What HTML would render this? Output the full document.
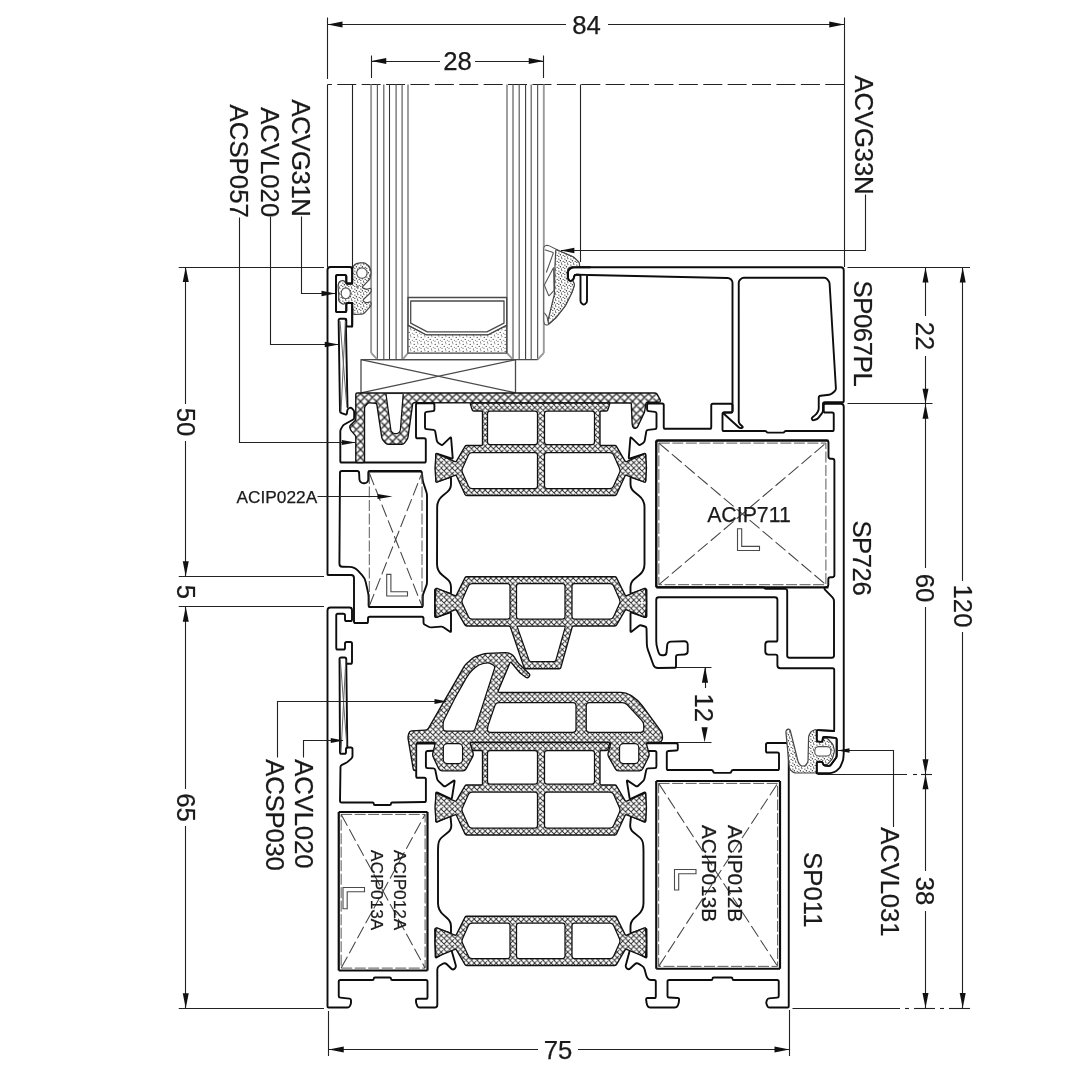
<!DOCTYPE html>
<html><head><meta charset="utf-8"><title>Section</title>
<style>
html,body{margin:0;padding:0;background:#fff;}
body{width:1080px;height:1080px;overflow:hidden;font-family:"Liberation Sans",sans-serif;}
svg{display:block;filter:grayscale(1)}
.t{stroke:#222;stroke-width:1.1;fill:none}
.tg{stroke:#666;stroke-width:1;fill:none}
.al{stroke:#0d0d0d;stroke-width:1.9;fill:none;stroke-linejoin:round;stroke-linecap:round}
.alw{stroke:#0d0d0d;stroke-width:1.9;fill:#fff;stroke-linejoin:round}
.bx{stroke:#0d0d0d;stroke-width:2.2;fill:none;stroke-linejoin:miter}
.gl{stroke:#5c5c5c;stroke-width:1.2;fill:none}
.go{stroke:#9a9a9a;stroke-width:1.9;fill:none}
.gd{stroke:#333;stroke-width:1.05;fill:none}
.sp{stroke:#4a4a4a;stroke-width:1.3;fill:none;stroke-linejoin:round}
.ds{stroke:#505050;stroke-width:0.95;fill:none;stroke-dasharray:11 2.5}
.dx{stroke:#444;stroke-width:1.05;fill:none;stroke-dasharray:13 4}
.h1{fill:url(#xh1);stroke:#111;stroke-width:1.35;stroke-linejoin:round}
.h2{fill:url(#xh2);stroke:#111;stroke-width:1.4;stroke-linejoin:round}
.cv{fill:#fff;stroke:#111;stroke-width:1.25;stroke-linejoin:round}
.st{fill:url(#dots2);stroke:#444;stroke-width:1.2;stroke-linejoin:round}
.sl{fill:url(#dots);stroke:#444;stroke-width:1.2;stroke-linejoin:round}
.stw{fill:#fff;stroke:#555;stroke-width:1.1;stroke-linejoin:round}
.ar{fill:#111;stroke:none}
.tx{fill:#1a1a1a;stroke:#1a1a1a;stroke-width:0.25;font-family:"Liberation Sans",sans-serif}
.lm{stroke:#4a4a4a;stroke-width:1.1;fill:#fff}
</style></head><body>
<svg width="1080" height="1080" viewBox="0 0 1080 1080">
<defs>
<pattern id="xh1" width="5.5" height="5.5" patternUnits="userSpaceOnUse" patternTransform="translate(1.2 0.6)">
<rect width="5.5" height="5.5" fill="#fff"/>
<path d="M-1,-1 L6.5,6.5 M-1,6.5 L6.5,-1 M-1,4.5 L1,6.5 M4.5,-1 L6.5,1 M-1,1 L1,-1 M4.5,6.5 L6.5,4.5" stroke="#2a2a2a" stroke-width="0.95" fill="none"/>
</pattern>
<pattern id="xh2" width="8" height="8" patternUnits="userSpaceOnUse" patternTransform="translate(0.5 1.5)">
<rect width="8" height="8" fill="#fff"/>
<path d="M-1,-1 L9,9 M-1,9 L9,-1 M-1,7 L1,9 M7,-1 L9,1 M-1,1 L1,-1 M7,9 L9,7" stroke="#222" stroke-width="1.25" fill="none"/>
</pattern>
<pattern id="dots" width="7" height="7" patternUnits="userSpaceOnUse">
<rect width="7" height="7" fill="#fff"/>
<circle cx="1.2" cy="1.4" r="0.6" fill="#3a3a3a"/><circle cx="4.9" cy="0.7" r="0.55" fill="#555"/><circle cx="3.2" cy="3.4" r="0.6" fill="#444"/><circle cx="6.3" cy="4.3" r="0.5" fill="#555"/><circle cx="1" cy="5.3" r="0.55" fill="#444"/><circle cx="4.4" cy="6.1" r="0.55" fill="#3a3a3a"/>
</pattern>
<pattern id="dots2" width="6" height="6" patternUnits="userSpaceOnUse">
<rect width="6" height="6" fill="#fff"/>
<circle cx="0.9" cy="1.1" r="0.65" fill="#2e2e2e"/><circle cx="3.9" cy="0.6" r="0.6" fill="#444"/><circle cx="2.4" cy="2.8" r="0.7" fill="#333"/><circle cx="5.2" cy="3.4" r="0.6" fill="#3a3a3a"/><circle cx="0.8" cy="4.4" r="0.6" fill="#444"/><circle cx="3.5" cy="5.1" r="0.65" fill="#2e2e2e"/>
</pattern>
</defs>
<rect width="1080" height="1080" fill="#fff"/>
<line class="t" x1="327.5" y1="17.5" x2="327.5" y2="79"/>
<line class="t" x1="844.5" y1="17.5" x2="844.5" y2="267"/>
<line class="t" x1="327.5" y1="24.5" x2="566" y2="24.5"/>
<line class="t" x1="608" y1="24.5" x2="844.25" y2="24.5"/>
<polygon class="ar" points="327.50,24.50 342.50,21.50 342.50,27.50"/>
<polygon class="ar" points="844.25,24.50 829.25,21.50 829.25,27.50"/>
<text class="tx" x="586.5" y="33.7" font-size="25.7" text-anchor="middle">84</text>
<line class="t" x1="371.5" y1="55.5" x2="371.5" y2="78"/>
<line class="t" x1="543.5" y1="55.5" x2="543.5" y2="78"/>
<line class="t" x1="371.25" y1="61.5" x2="440" y2="61.5"/>
<line class="t" x1="475" y1="61.5" x2="543.75" y2="61.5"/>
<polygon class="ar" points="371.25,61.00 386.25,58.00 386.25,64.00"/>
<polygon class="ar" points="543.75,61.00 528.75,58.00 528.75,64.00"/>
<text class="tx" x="457.5" y="70.3" font-size="25.7" text-anchor="middle">28</text>
<line class="t" x1="327.5" y1="84.5" x2="844.25" y2="84.5" stroke-dasharray="19 5.4" stroke-dashoffset="14.65"/>
<line class="t" x1="327.5" y1="84.5" x2="327.5" y2="267"/>
<line class="t" x1="352.5" y1="84.5" x2="352.5" y2="267"/>
<line class="t" x1="580.5" y1="84.5" x2="580.5" y2="262"/>
<line class="t" x1="178.75" y1="267.5" x2="324" y2="267.5"/>
<line class="t" x1="178.75" y1="576.5" x2="324" y2="576.5"/>
<line class="t" x1="178.75" y1="606.5" x2="324" y2="606.5"/>
<line class="t" x1="178.75" y1="1008.5" x2="324" y2="1008.5"/>
<line class="t" x1="185.5" y1="267" x2="185.5" y2="404"/>
<line class="t" x1="185.5" y1="441" x2="185.5" y2="576.25"/>
<polygon class="ar" points="185.75,267.00 182.75,282.00 188.75,282.00"/>
<polygon class="ar" points="185.75,576.25 182.75,561.25 188.75,561.25"/>
<line class="t" x1="185.5" y1="606.75" x2="185.5" y2="789"/>
<line class="t" x1="185.5" y1="826" x2="185.5" y2="1008.25"/>
<polygon class="ar" points="185.75,606.75 182.75,621.75 188.75,621.75"/>
<polygon class="ar" points="185.75,1008.25 182.75,993.25 188.75,993.25"/>
<text class="tx" font-size="25.7" text-anchor="middle" transform="translate(176.80 422) rotate(90)">50</text>
<text class="tx" font-size="25.7" text-anchor="middle" transform="translate(176.80 592) rotate(90)">5</text>
<text class="tx" font-size="25.7" text-anchor="middle" transform="translate(176.80 807.5) rotate(90)">65</text>
<line class="t" x1="847.5" y1="267.5" x2="970" y2="267.5"/>
<line class="t" x1="847.5" y1="403.5" x2="932.5" y2="403.5"/>
<line class="t" x1="817.5" y1="774.5" x2="907" y2="774.5"/>
<line class="t" x1="913" y1="774.5" x2="917" y2="774.5"/>
<line class="t" x1="921" y1="774.5" x2="932" y2="774.5"/>
<line class="t" x1="792.5" y1="1008.5" x2="900" y2="1008.5"/>
<line class="t" x1="905" y1="1008.5" x2="909" y2="1008.5"/>
<line class="t" x1="914" y1="1008.5" x2="935" y2="1008.5"/>
<line class="t" x1="940" y1="1008.5" x2="944" y2="1008.5"/>
<line class="t" x1="949" y1="1008.5" x2="970" y2="1008.5"/>
<line class="t" x1="925.5" y1="267.5" x2="925.5" y2="316"/>
<line class="t" x1="925.5" y1="356" x2="925.5" y2="403.75"/>
<polygon class="ar" points="925.50,267.50 922.50,282.50 928.50,282.50"/>
<polygon class="ar" points="925.50,403.75 922.50,388.75 928.50,388.75"/>
<line class="t" x1="925.5" y1="403.75" x2="925.5" y2="568"/>
<line class="t" x1="925.5" y1="607" x2="925.5" y2="774.25"/>
<polygon class="ar" points="925.50,403.75 922.50,418.75 928.50,418.75"/>
<polygon class="ar" points="925.50,774.25 922.50,759.25 928.50,759.25"/>
<line class="t" x1="925.5" y1="774.25" x2="925.5" y2="871"/>
<line class="t" x1="925.5" y1="911" x2="925.5" y2="1008"/>
<polygon class="ar" points="925.50,774.25 922.50,789.25 928.50,789.25"/>
<polygon class="ar" points="925.50,1008.00 922.50,993.00 928.50,993.00"/>
<line class="t" x1="962.5" y1="267.5" x2="962.5" y2="581"/>
<line class="t" x1="962.5" y1="632" x2="962.5" y2="1008"/>
<polygon class="ar" points="962.70,267.50 959.70,282.50 965.70,282.50"/>
<polygon class="ar" points="962.70,1008.00 959.70,993.00 965.70,993.00"/>
<text class="tx" font-size="25.7" text-anchor="middle" transform="translate(915.80 336) rotate(90)">22</text>
<text class="tx" font-size="25.7" text-anchor="middle" transform="translate(915.80 588) rotate(90)">60</text>
<text class="tx" font-size="25.7" text-anchor="middle" transform="translate(916.30 891) rotate(90)">38</text>
<text class="tx" font-size="25.7" text-anchor="middle" transform="translate(953.50 606) rotate(90)">120</text>
<line class="t" x1="328.5" y1="1011" x2="328.5" y2="1056"/>
<line class="t" x1="789.5" y1="1010" x2="789.5" y2="1056"/>
<line class="t" x1="328.75" y1="1049.5" x2="538" y2="1049.5"/>
<line class="t" x1="578" y1="1049.5" x2="789.5" y2="1049.5"/>
<polygon class="ar" points="328.75,1049.50 343.75,1046.50 343.75,1052.50"/>
<polygon class="ar" points="789.50,1049.50 774.50,1046.50 774.50,1052.50"/>
<text class="tx" x="558" y="1058.8" font-size="25.7" text-anchor="middle">75</text>
<line class="t" x1="676" y1="667.5" x2="711.5" y2="667.5"/>
<line class="t" x1="661" y1="742.5" x2="711.5" y2="742.5"/>
<line class="t" x1="705.5" y1="667.5" x2="705.5" y2="688"/>
<polygon class="ar" points="705.00,666.80 701.90,682.80 708.10,682.80"/>
<polygon class="ar" points="704.60,742.30 701.50,727.30 707.70,727.30"/>
<text class="tx" font-size="25.7" text-anchor="middle" transform="translate(694.80 707.8) rotate(90)">12</text>
<line class="go" x1="371.1" y1="84.5" x2="371.1" y2="353"/>
<line class="gl" x1="377.4" y1="84.5" x2="377.4" y2="359.7"/>
<line class="gl" x1="383.8" y1="84.5" x2="383.8" y2="359.7"/>
<line class="gd" x1="389.5" y1="84.5" x2="389.5" y2="359.7"/>
<line class="gl" x1="396.1" y1="84.5" x2="396.1" y2="359.7"/>
<line class="gl" x1="402.1" y1="84.5" x2="402.1" y2="359.7"/>
<line class="go" x1="408" y1="84.5" x2="408" y2="353"/>
<line class="go" x1="507" y1="84.5" x2="507" y2="353"/>
<line class="gl" x1="513" y1="84.5" x2="513" y2="359.7"/>
<line class="gl" x1="519.2" y1="84.5" x2="519.2" y2="359.7"/>
<line class="gd" x1="525.6" y1="84.5" x2="525.6" y2="359.7"/>
<line class="gl" x1="531.2" y1="84.5" x2="531.2" y2="359.7"/>
<line class="gl" x1="537.6" y1="84.5" x2="537.6" y2="359.7"/>
<line class="go" x1="543.8" y1="84.5" x2="543.8" y2="353"/>
<line class="go" x1="371.25" y1="353" x2="377.5" y2="359.7"/>
<line class="go" x1="408" y1="353" x2="402.5" y2="359.7"/>
<line class="go" x1="507" y1="353" x2="513" y2="359.7"/>
<line class="go" x1="543.75" y1="353" x2="537.5" y2="359.7"/>
<line class="sp" x1="377.5" y1="359.7" x2="537.5" y2="359.7"/>
<path class="sp" d="M408,297.5 H506.7 V325.4 L487.9,335 H426.3 L408,325.4 Z" stroke-width="1.5" stroke="#666"/>
<path class="sp" d="M410.7,301 H504 V323.2 L486.9,331.9 H427.3 L410.7,323.2 Z" />
<path class="sl" d="M408,325.4 L426.3,335 H487.9 L506.7,325.4 V353.2 H408 Z" stroke="#444"/>
<path class="sp" d="M361,392.8 V359.7 H515.5 V392.8" stroke="#333"/>
<line class="sp" x1="361" y1="359.7" x2="515.5" y2="392.8"/>
<line class="sp" x1="361" y1="392.8" x2="515.5" y2="359.7"/>
<path class="al" d="M339.85,267.00 L349.70,267.00 Q352.20,267.00 352.20,269.50 L352.20,281.90 Q352.20,283.50 350.60,283.50 L347.90,283.50 Q346.30,283.50 346.30,281.90 L346.30,276.60 Q346.30,275.00 344.70,275.00 L337.60,275.00 Q336.00,275.00 336.00,276.60 L336.00,310.40 Q336.00,312.00 337.60,312.00 L344.70,312.00 Q346.30,312.00 346.30,310.40 L346.30,304.60 Q346.30,303.00 347.90,303.00 L350.60,303.00 Q352.20,303.00 352.20,304.60 L352.20,324.90 Q352.20,326.50 350.60,326.50 L347.90,326.50 Q346.30,326.50 346.30,324.90 L346.30,320.30 Q346.30,318.70 344.70,318.70 L340.20,318.70 Q338.60,318.70 338.62,320.30 L339.98,410.90 Q340.00,412.50 341.50,413.06 L345.20,414.44 Q346.70,415.00 346.91,413.41 L347.29,410.59 Q347.50,409.00 348.92,408.27 L349.38,408.03 Q350.80,407.30 351.91,408.45 L353.09,409.65 Q354.20,410.80 354.20,412.40 L354.20,417.40 Q354.20,419.00 352.80,419.77 L344.70,424.23 Q343.30,425.00 342.48,426.37 L341.12,428.63 Q340.30,430.00 340.30,431.60 L340.30,460.90 Q340.30,462.50 341.90,462.50 L424.20,462.50 Q425.80,462.50 425.80,460.90 L425.80,439.90 Q425.80,438.30 424.20,438.30 L417.60,438.30 Q416.00,438.30 416.00,436.70 L416.00,404.90 Q416.00,403.30 417.60,403.30 L432.80,403.30 Q434.40,403.30 434.40,404.90 L434.40,409.40 Q434.40,411.00 432.81,411.17 L426.59,411.83 Q425.00,412.00 425.00,413.60 L425.00,427.40 Q425.00,429.00 426.59,429.16 L433.41,429.84 Q435.00,430.00 435.26,431.58 L436.74,440.42 Q437.00,442.00 438.31,442.92 L440.69,444.58 Q442.00,445.50 443.14,444.38 L449.86,437.82 Q451.00,436.70 451.13,438.29 L452.67,457.41 Q452.80,459.00 451.28,458.49 L437.52,453.81 Q436.00,453.30 436.00,454.90 L436.00,480.40 Q436.00,482.00 437.51,481.47 L449.49,477.23 Q451.00,476.70 451.00,478.30 L451.00,484.00 Q451.00,489.00 447.09,492.12 L442.67,495.64 Q437.20,500.00 437.18,507.00 L437.02,564.00 Q437.00,571.00 442.50,575.32 L447.07,578.91 Q451.00,582.00 451.00,587.00 L451.00,592.40 Q451.00,594.00 449.48,593.50 L436.52,589.25 Q435.00,588.75 435.00,590.35 L435.00,615.90 Q435.00,617.50 436.51,616.98 L449.49,612.52 Q451.00,612.00 451.00,613.60 L451.00,630.90 Q451.00,632.50 449.69,631.58 L443.81,627.42 Q442.50,626.50 440.91,626.63 L431.59,627.37 Q430.00,627.50 428.59,626.74 L424.91,624.76 Q423.50,624.00 423.50,622.40 L423.50,618.40 Q423.50,616.80 421.90,616.80 L369.60,616.80 Q368.00,616.80 368.00,618.40 L368.00,621.40 Q368.00,623.00 366.40,623.00 L355.60,623.00 Q354.00,623.00 354.00,621.40 L354.00,578.00 Q354.00,575.00 351.00,575.00 L328.00,575.00 Q327.50,575.00 327.50,574.50 L327.50,270.00 Q327.50,267.00 330.50,267.00Z" />
<line class="al" x1="345.8" y1="319" x2="347.5" y2="407"/>
<line class="tg" x1="340" y1="321" x2="346.6" y2="404"/>
<line class="tg" x1="345.4" y1="321" x2="341" y2="412"/>
<path class="al" d="M349.50,471.00 L357.20,471.00 Q359.00,471.00 359.09,472.80 L359.42,479.30 Q359.50,481.00 360.75,482.15 L360.75,482.15 Q362.00,483.30 363.70,483.30 L364.37,483.30 Q366.00,483.30 367.15,482.15 L367.15,482.15 Q368.30,481.00 368.30,479.37 L368.30,472.80 Q368.30,471.00 370.10,471.00 L419.90,471.00 Q421.70,471.00 421.90,472.79 L422.60,479.21 Q422.80,481.00 423.35,482.71 L426.45,492.29 Q427.00,494.00 427.00,495.80 L427.00,582.20 Q427.00,584.00 426.36,585.68 L423.44,593.32 Q422.80,595.00 422.80,596.80 L422.80,605.20 Q422.80,607.00 421.00,607.00 L370.40,607.00 Q368.60,607.00 368.60,605.20 L368.60,597.50 Q368.60,595.00 368.05,592.56 L365.67,581.90 Q364.80,578.00 362.07,575.08 L357.92,570.65 Q354.50,567.00 349.50,566.87 L342.40,566.68 Q339.40,566.60 339.42,563.60 L339.99,472.80 Q340.00,471.00 341.80,471.00Z" />
<path class="al" d="M655.42,403.50 L662.15,403.50 Q663.75,403.50 663.75,405.10 L663.75,427.15 Q663.75,428.75 665.35,428.75 L709.65,428.75 Q711.25,428.75 711.25,427.15 L711.25,405.35 Q711.25,403.75 712.85,403.75 L730.90,403.75 Q732.50,403.75 732.50,405.35 L732.50,410.90 Q732.50,412.50 730.90,412.50 L724.10,412.50 Q722.50,412.50 722.50,414.10 L722.50,429.40 Q722.50,431.00 724.10,431.00 L765.06,431.00 Q766.00,431.00 766.50,431.80 L766.50,431.80 Q767.00,432.60 767.94,432.60 L783.06,432.60 Q784.00,432.60 784.50,431.80 L784.50,431.80 Q785.00,431.00 785.94,431.00 L832.15,431.00 Q833.75,431.00 833.75,429.40 L833.75,414.10 Q833.75,412.50 832.15,412.50 L825.35,412.50 Q823.75,412.50 823.75,410.90 L823.75,405.35 Q823.75,403.75 825.35,403.75 L840.75,403.75 Q843.75,403.75 843.75,406.75 L843.75,751.40 Q843.75,753.00 843.62,754.60 L843.33,758.40 Q843.20,760.00 842.57,761.47 L840.63,766.03 Q840.00,767.50 838.83,768.59 L836.67,770.61 Q835.50,771.70 833.96,772.15 L831.54,772.85 Q830.00,773.30 828.40,773.30 L818.30,773.30 Q816.70,773.30 816.70,771.70 L816.70,763.30 Q816.70,761.70 818.30,761.70 L820.90,761.70 Q822.50,761.70 822.93,763.24 L823.07,763.76 Q823.50,765.30 825.09,765.47 L828.41,765.83 Q830.00,766.00 830.96,764.72 L835.74,758.28 Q836.70,757.00 836.70,755.40 L836.70,739.60 Q836.70,738.00 835.11,737.85 L824.59,736.85 Q823.00,736.70 822.85,738.29 L822.65,740.41 Q822.50,742.00 820.91,741.86 L818.29,741.64 Q816.70,741.50 816.70,739.90 L816.70,731.60 Q816.70,730.00 818.30,730.09 L832.60,730.91 Q834.20,731.00 834.20,729.40 L834.20,669.90 Q834.20,668.30 832.60,668.30 L780.40,668.30 Q777.40,668.30 777.40,665.30 L777.40,656.20 Q777.40,654.60 775.80,654.60 L768.30,654.60 Q765.30,654.60 765.30,651.60 L765.30,644.50 Q765.30,641.50 768.30,641.50 L775.80,641.50 Q777.40,641.50 777.40,639.90 L777.40,599.80 Q777.40,597.30 774.90,597.30 L658.75,597.30 Q656.25,597.30 656.25,599.80 L656.25,641.00 Q656.25,645.00 657.45,648.81 L658.60,652.44 Q659.50,655.30 662.50,655.30 L663.30,655.30 Q666.30,655.30 666.56,652.31 L667.19,645.19 Q667.50,641.70 671.00,641.61 L684.20,641.29 Q687.70,641.20 687.70,644.70 L687.70,651.30 Q687.70,654.30 684.71,654.48 L678.00,654.88 Q676.00,655.00 676.00,657.00 L676.00,666.20 Q676.00,667.80 674.40,667.81 L658.00,667.97 Q654.50,668.00 653.31,664.71 L647.92,649.82 Q646.90,647.00 646.84,644.00 L646.53,628.60 Q646.50,627.00 644.97,626.53 L641.53,625.47 Q640.00,625.00 638.74,625.99 L631.76,631.51 Q630.50,632.50 630.50,630.90 L630.50,613.60 Q630.50,612.00 632.01,612.52 L644.99,616.98 Q646.50,617.50 646.50,615.90 L646.50,590.35 Q646.50,588.75 644.98,589.25 L632.02,593.50 Q630.50,594.00 630.50,592.40 L630.50,587.00 Q630.50,582.00 634.43,578.91 L639.00,575.32 Q644.50,571.00 644.50,564.00 L644.50,507.00 Q644.50,500.00 639.00,495.68 L634.43,492.09 Q630.50,489.00 630.50,484.00 L630.50,478.30 Q630.50,476.70 632.01,477.23 L643.99,481.47 Q645.50,482.00 645.50,480.40 L645.50,454.90 Q645.50,453.30 643.98,453.81 L630.22,458.49 Q628.70,459.00 628.83,457.41 L630.37,438.29 Q630.50,436.70 631.64,437.82 L638.36,444.38 Q639.50,445.50 640.81,444.58 L643.19,442.92 Q644.50,442.00 644.76,440.42 L646.24,431.58 Q646.50,430.00 648.09,429.84 L654.91,429.16 Q656.50,429.00 656.50,427.40 L656.50,413.60 Q656.50,412.00 654.91,411.83 L648.69,411.17 Q647.10,411.00 647.10,409.40 L647.10,405.10 Q647.10,403.50 648.70,403.50Z" />
<path class="al" d="M742.38,440.50 L826.30,440.50 Q828.50,440.50 828.50,442.70 L828.50,456.55 Q828.50,458.75 830.70,458.75 L832.20,458.75 Q834.40,458.75 834.40,460.95 L834.40,575.00 Q834.40,577.20 832.20,577.20 L830.50,577.20 Q828.30,577.20 828.30,579.40 L828.30,584.71 Q828.30,586.70 826.35,587.10 L825.13,587.35 Q824.40,587.50 824.40,588.25 L824.40,588.25 Q824.40,589.00 824.92,589.54 L832.48,597.41 Q834.00,599.00 834.00,601.20 L834.00,655.60 Q834.00,657.80 831.80,657.80 L789.40,657.80 Q787.20,657.80 787.20,655.60 L787.20,591.10 Q787.20,588.90 785.00,588.90 L765.94,588.90 Q765.00,588.90 764.50,588.10 L764.50,588.10 Q764.00,587.30 763.06,587.30 L658.45,587.30 Q656.25,587.30 656.25,585.10 L656.25,442.70 Q656.25,440.50 658.45,440.50Z" />
<path class="al" d="M707.88,267.20 L840.75,267.20 Q843.75,267.20 843.75,270.20 L843.75,401.30 Q843.75,402.30 842.75,402.30 L824.80,402.30 Q823.00,402.30 823.00,404.10 L823.00,410.20 Q823.00,412.00 821.89,413.42 L818.61,417.58 Q817.50,419.00 815.78,419.52 L813.79,420.11 Q812.50,420.50 812.00,419.25 L812.00,419.25 Q811.50,418.00 812.55,417.16 L815.09,415.12 Q816.50,414.00 817.38,412.43 L817.87,411.57 Q818.75,410.00 818.75,408.20 L818.75,397.80 Q818.75,396.00 820.54,395.78 L829.21,394.72 Q831.00,394.50 832.34,393.30 L834.66,391.20 Q836.00,390.00 835.89,388.20 L829.61,283.80 Q829.50,282.00 828.35,280.62 L827.15,279.18 Q826.00,277.80 824.20,277.80 L743.80,277.80 Q742.00,277.80 740.72,279.06 L740.03,279.74 Q738.75,281.00 738.75,282.80 L738.75,421.20 Q738.75,423.00 740.06,424.24 L742.19,426.26 Q743.50,427.50 741.77,427.99 L741.73,428.01 Q740.00,428.50 738.67,427.29 L723.83,413.71 Q722.50,412.50 724.30,412.50 L730.70,412.50 Q732.50,412.50 732.50,410.70 L732.50,282.80 Q732.50,281.00 731.23,279.73 L730.77,279.27 Q729.50,278.00 727.70,277.96 L588.80,274.94 Q587.00,274.90 587.00,276.70 L587.00,300.70 Q587.00,302.50 585.57,303.60 L585.18,303.90 Q583.75,305.00 582.32,303.90 L581.93,303.60 Q580.50,302.50 580.50,300.70 L580.50,276.50 Q580.50,274.70 578.70,274.70 L576.30,274.70 Q574.50,274.70 574.13,276.46 L573.85,277.82 Q573.50,279.50 572.10,280.50 L572.07,280.52 Q570.70,281.50 569.35,280.50 L569.35,280.50 Q568.00,279.50 568.00,277.82 L568.00,272.30 Q568.00,270.50 569.39,269.35 L570.00,268.85 Q572.00,267.20 574.59,267.20Z" />
<path class="al" d="M339.75,607.50 L349.50,607.50 Q352.00,607.50 352.00,610.00 L352.00,619.40 Q352.00,621.00 350.40,621.00 L346.60,621.00 Q345.00,621.00 345.00,619.40 L345.00,615.35 Q345.00,613.75 343.40,613.75 L337.85,613.75 Q336.25,613.75 336.25,615.35 L336.25,647.90 Q336.25,649.50 337.85,649.50 L343.40,649.50 Q345.00,649.50 345.00,647.90 L345.00,643.60 Q345.00,642.00 346.60,642.00 L350.40,642.00 Q352.00,642.00 352.00,643.60 L352.00,662.15 Q352.00,663.75 350.40,663.75 L347.85,663.75 Q346.25,663.75 346.25,662.15 L346.25,659.10 Q346.25,657.50 344.65,657.50 L341.10,657.50 Q339.50,657.50 339.51,659.10 L339.99,752.15 Q340.00,753.75 341.60,753.75 L344.40,753.75 Q346.00,753.75 346.00,752.15 L346.00,749.10 Q346.00,747.50 347.60,747.50 L350.90,747.50 Q352.50,747.50 352.50,749.10 L352.50,755.90 Q352.50,757.50 351.32,758.58 L348.18,761.42 Q347.00,762.50 345.55,763.17 L341.95,764.83 Q340.50,765.50 340.48,767.10 L340.02,800.90 Q340.00,802.50 341.60,802.50 L372.50,802.50 Q373.75,802.50 373.75,803.75 L373.75,803.75 Q373.75,805.00 375.00,805.00 L389.75,805.00 Q391.00,805.00 391.00,803.75 L391.00,803.75 Q391.00,802.50 392.25,802.48 L424.30,802.02 Q425.90,802.00 425.90,800.40 L425.90,779.40 Q425.90,777.80 424.30,777.80 L417.80,777.80 Q416.20,777.80 416.20,776.20 L416.20,745.10 Q416.20,743.50 417.80,743.50 L433.40,743.50 Q435.00,743.50 435.00,745.10 L435.00,749.10 Q435.00,750.70 433.40,750.75 L427.50,750.95 Q425.90,751.00 425.90,752.60 L425.90,766.40 Q425.90,768.00 427.50,768.09 L433.40,768.41 Q435.00,768.50 435.31,770.07 L436.99,778.43 Q437.30,780.00 438.46,781.10 L443.34,785.70 Q444.50,786.80 445.84,785.92 L453.46,780.88 Q454.80,780.00 454.55,781.58 L451.95,797.82 Q451.70,799.40 450.25,798.72 L437.45,792.68 Q436.00,792.00 436.00,793.60 L436.00,820.70 Q436.00,822.30 437.47,821.66 L449.03,816.64 Q450.50,816.00 450.64,817.59 L451.26,824.52 Q451.70,829.50 447.79,832.61 L442.42,836.88 Q438.50,840.00 438.25,845.00 L438.08,848.40 Q438.00,850.00 438.00,851.60 L438.00,903.00 Q438.00,910.00 443.24,914.64 L447.26,918.19 Q451.00,921.50 451.00,926.50 L451.00,931.90 Q451.00,933.50 449.48,933.00 L436.52,928.75 Q435.00,928.25 435.03,929.85 L435.57,956.40 Q435.60,958.00 436.96,957.16 L449.64,949.34 Q451.00,948.50 451.44,950.04 L455.69,964.89 Q456.30,967.00 454.74,968.56 L454.56,968.74 Q453.00,970.30 451.42,968.76 L446.79,964.25 Q445.00,962.50 442.84,963.76 L439.46,965.74 Q437.30,967.00 437.30,969.50 L437.30,1005.00 Q437.30,1007.50 434.80,1007.50 L419.60,1007.50 Q418.00,1007.50 417.35,1006.04 L416.65,1004.46 Q416.00,1003.00 416.00,1001.40 L416.00,1000.35 Q416.00,998.75 417.60,998.75 L425.90,998.75 Q427.50,998.75 427.50,997.15 L427.50,981.60 Q427.50,980.00 425.90,980.00 L392.25,980.00 Q391.00,980.00 391.00,978.75 L391.00,978.75 Q391.00,977.50 389.75,977.50 L375.00,977.50 Q373.75,977.50 373.75,978.75 L373.75,978.75 Q373.75,980.00 372.50,980.00 L340.35,980.00 Q338.75,980.00 338.75,981.60 L338.75,995.90 Q338.75,997.50 340.34,997.66 L349.41,998.59 Q351.00,998.75 351.00,1000.35 L351.00,1002.40 Q351.00,1004.00 350.21,1005.39 L349.79,1006.11 Q349.00,1007.50 347.40,1007.50 L328.50,1007.50 Q327.50,1007.50 327.50,1006.50 L327.50,610.50 Q327.50,607.50 330.50,607.50Z" />
<line class="al" x1="346.3" y1="664" x2="347.3" y2="747.5"/>
<line class="tg" x1="340.3" y1="660" x2="346.8" y2="745"/>
<line class="tg" x1="345.8" y1="660" x2="341" y2="752"/>
<path class="al" d="M661.90,743.30 L676.20,743.30 Q677.80,743.30 677.80,744.90 L677.80,748.90 Q677.80,750.50 676.20,750.57 L668.40,750.93 Q666.80,751.00 666.80,752.60 L666.80,768.40 Q666.80,770.00 668.40,770.00 L711.31,770.00 Q712.80,770.00 713.15,771.45 L713.15,771.45 Q713.50,772.90 714.99,772.90 L729.51,772.90 Q731.00,772.90 731.35,771.45 L731.35,771.45 Q731.70,770.00 733.19,770.00 L777.40,770.00 Q779.00,770.00 779.00,768.40 L779.00,754.10 Q779.00,752.50 777.40,752.50 L767.60,752.50 Q766.00,752.50 766.00,750.90 L766.00,744.60 Q766.00,743.00 767.60,743.00 L785.75,743.00 Q788.75,743.00 788.75,746.00 L788.75,1006.50 Q788.75,1007.50 787.75,1007.50 L769.60,1007.50 Q768.00,1007.50 767.35,1006.04 L766.65,1004.46 Q766.00,1003.00 766.51,1001.48 L766.99,1000.02 Q767.50,998.50 769.09,998.36 L777.16,997.64 Q778.75,997.50 778.75,995.90 L778.75,981.60 Q778.75,980.00 777.15,980.00 L733.75,980.00 Q732.50,980.00 732.50,978.75 L732.50,978.75 Q732.50,977.50 731.25,977.50 L713.75,977.50 Q712.50,977.50 712.50,978.75 L712.50,978.75 Q712.50,980.00 711.25,980.00 L669.10,980.00 Q667.50,980.00 667.50,981.60 L667.50,995.90 Q667.50,997.50 669.10,997.57 L677.60,997.93 Q679.20,998.00 679.07,999.59 L678.93,1001.41 Q678.80,1003.00 678.21,1004.49 L677.90,1005.25 Q677.00,1007.50 674.58,1007.50 L650.37,1007.50 Q648.00,1007.50 647.25,1005.25 L647.01,1004.52 Q646.50,1003.00 646.34,1001.41 L646.16,999.59 Q646.00,998.00 647.60,998.00 L654.20,998.00 Q655.80,998.00 655.80,996.40 L655.80,981.60 Q655.80,980.00 654.20,980.00 L650.89,980.00 Q649.00,980.00 647.85,978.50 L647.85,978.50 Q646.70,977.00 646.21,975.18 L644.65,969.41 Q644.00,967.00 641.85,965.72 L638.75,963.88 Q636.60,962.60 634.76,964.30 L630.22,968.51 Q628.60,970.00 626.97,968.52 L626.93,968.48 Q625.30,967.00 625.87,964.88 L629.88,950.04 Q630.30,948.50 631.68,949.31 L645.22,957.19 Q646.60,958.00 646.59,956.40 L646.51,929.85 Q646.50,928.25 644.98,928.75 L632.02,933.00 Q630.50,933.50 630.50,931.90 L630.50,926.50 Q630.50,921.50 634.24,918.19 L638.26,914.64 Q643.50,910.00 643.50,903.00 L643.50,851.60 Q643.50,850.00 643.42,848.40 L643.25,845.00 Q643.00,840.00 639.08,836.88 L633.71,832.61 Q629.80,829.50 630.24,824.52 L630.86,817.59 Q631.00,816.00 632.47,816.64 L644.03,821.66 Q645.50,822.30 645.50,820.70 L645.50,793.60 Q645.50,792.00 644.05,792.68 L631.25,798.72 Q629.80,799.40 629.55,797.82 L626.95,781.58 Q626.70,780.00 628.04,780.88 L635.66,785.92 Q637.00,786.80 638.16,785.70 L643.04,781.10 Q644.20,780.00 644.51,778.43 L646.19,770.07 Q646.50,768.50 648.10,768.42 L654.80,768.08 Q656.40,768.00 656.40,766.40 L656.40,752.60 Q656.40,751.00 654.80,751.00 L647.60,751.00 Q646.00,751.00 646.00,749.40 L646.00,744.90 Q646.00,743.30 647.60,743.30Z" />
<line class="bx" x1="368.3" y1="471.5" x2="421.7" y2="471.5"/>
<line class="bx" x1="368.6" y1="607" x2="422.8" y2="607"/>
<line class="ds" x1="369.3" y1="473" x2="369.3" y2="606"/>
<line class="ds" x1="422" y1="473" x2="422" y2="606"/>
<line class="dx" x1="369.3" y1="473" x2="422" y2="606"/>
<line class="dx" x1="369.3" y1="606" x2="422" y2="473"/>
<polygon class="lm" points="386.7,574.4 390.9,574.4 390.9,591.8 407.5,591.8 407.5,596.0 386.7,596.0"/>
<line class="bx" x1="656.25" y1="440.5" x2="656.25" y2="587.3"/>
<line class="bx" x1="656.25" y1="440.5" x2="828.5" y2="440.5"/>
<line class="bx" x1="656.25" y1="587.3" x2="828.5" y2="587.3"/>
<rect class="ds" x="658.85" y="443.1" width="167.04999999999995" height="141.5999999999999"/>
<line class="dx" x1="658.85" y1="443.1" x2="825.9" y2="584.6999999999999"/>
<line class="dx" x1="658.85" y1="584.6999999999999" x2="825.9" y2="443.1"/>
<polygon class="lm" points="737.5,528.75 741.7,528.75 741.7,546.3499999999999 759.5,546.3499999999999 759.5,550.55 737.5,550.55"/>
<line class="bx" x1="338.75" y1="812" x2="338.75" y2="970.5"/>
<line class="bx" x1="338.75" y1="812" x2="427.5" y2="812"/>
<line class="bx" x1="427.5" y1="812" x2="427.5" y2="970.5"/>
<line class="bx" x1="338.75" y1="970.5" x2="427.5" y2="970.5"/>
<rect class="ds" x="341.15" y="814.4" width="83.95000000000005" height="153.70000000000005"/>
<line class="dx" x1="341.15" y1="814.4" x2="425.1" y2="968.1"/>
<line class="dx" x1="341.15" y1="968.1" x2="425.1" y2="814.4"/>
<polygon class="lm" points="343,887.5 364.5,887.5 364.5,891.7 347.2,891.7 347.2,908.8 343,908.8"/>
<line class="bx" x1="656.25" y1="781" x2="656.25" y2="968.75"/>
<line class="bx" x1="656.25" y1="781" x2="780" y2="781"/>
<line class="bx" x1="780" y1="781" x2="780" y2="968.75"/>
<line class="bx" x1="656.25" y1="968.75" x2="780" y2="968.75"/>
<rect class="ds" x="658.65" y="783.4" width="118.95000000000005" height="182.95000000000005"/>
<line class="dx" x1="658.65" y1="783.4" x2="777.6" y2="966.35"/>
<line class="dx" x1="658.65" y1="966.35" x2="777.6" y2="783.4"/>
<polygon class="lm" points="674.5,869.5 696.0,869.5 696.0,873.7 678.7,873.7 678.7,890.0 674.5,890.0"/>
<path class="h2" d="M506.15,393.00 L655.00,393.00 Q656.50,393.00 657.21,394.32 L660.06,399.68 Q660.50,400.50 660.25,401.40 L660.25,401.40 Q660.00,402.30 659.07,402.30 L647.30,402.30 Q646.30,402.30 646.12,403.28 L644.77,410.53 Q644.40,412.50 643.54,414.30 L637.65,426.65 Q637.00,428.00 635.52,428.21 L634.98,428.29 Q633.50,428.50 632.98,427.09 L632.72,426.41 Q632.20,425.00 632.14,423.50 L631.34,404.00 Q631.30,403.00 630.30,403.00 L414.30,402.80 Q412.80,402.80 412.59,404.29 L408.01,437.01 Q407.80,438.50 406.91,439.70 L404.39,443.10 Q403.50,444.30 402.00,444.30 L388.00,444.30 Q386.50,444.30 385.53,443.16 L382.97,440.14 Q382.00,439.00 381.78,437.52 L376.92,404.78 Q376.70,403.30 375.20,403.21 L369.50,402.89 Q368.00,402.80 367.04,403.95 L365.46,405.85 Q364.50,407.00 364.50,408.50 L364.50,461.00 Q364.50,462.50 363.00,462.50 L357.30,462.50 Q355.80,462.50 355.80,461.00 L355.80,437.50 Q355.80,436.00 354.81,434.88 L351.49,431.12 Q350.50,430.00 350.14,428.54 L349.86,427.46 Q349.50,426.00 350.59,424.97 L354.71,421.03 Q355.80,420.00 355.80,418.50 L355.80,394.50 Q355.80,393.00 357.30,393.00Z" />
<path class="cv" d="M386.00,394.00 L390.84,429.81 Q391.00,431.00 391.85,431.85 L392.65,432.65 Q393.50,433.50 394.70,433.50 L396.80,433.50 Q398.00,433.50 398.81,432.62 L399.49,431.88 Q400.30,431.00 400.39,429.80 L403.20,394.00" />
<line class="t" x1="386" y1="393.5" x2="403.2" y2="393.5"/>
<path class="h1" d="M540.00,403.00 L608.80,403.00 Q610.00,403.00 609.64,404.15 L607.86,409.85 Q607.50,411.00 606.30,411.00 L601.20,411.00 Q600.00,411.00 600.00,412.20 L600.00,444.30 Q600.00,445.50 601.20,445.50 L614.80,445.50 Q616.00,445.50 616.60,446.54 L624.90,460.96 Q625.50,462.00 626.60,461.53 L644.40,453.97 Q645.50,453.50 645.58,454.70 L646.42,466.80 Q646.50,468.00 646.42,469.20 L645.58,481.30 Q645.50,482.50 644.38,482.08 L626.62,475.42 Q625.50,475.00 625.00,476.09 L616.50,494.41 Q616.00,495.50 614.80,495.50 L466.70,495.50 Q465.50,495.50 465.00,494.41 L456.50,476.09 Q456.00,475.00 454.88,475.42 L437.12,482.08 Q436.00,482.50 435.92,481.30 L435.08,469.20 Q435.00,468.00 435.08,466.80 L435.92,454.70 Q436.00,453.50 437.10,453.97 L454.90,461.53 Q456.00,462.00 456.60,460.96 L464.90,446.54 Q465.50,445.50 466.70,445.50 L481.30,445.50 Q482.50,445.50 482.50,444.30 L482.50,412.20 Q482.50,411.00 481.30,411.00 L473.70,411.00 Q472.50,411.00 472.14,409.85 L470.36,404.15 Q470.00,403.00 471.20,403.00Z" />
<rect class="cv" x="487.5" y="411" width="50.0" height="33.5" rx="2.5"/>
<rect class="cv" x="544.5" y="411" width="50.0" height="33.5" rx="2.5"/>
<path class="cv" d="M503.50,452.50 L535.00,452.50 Q537.50,452.50 537.50,455.00 L537.50,486.00 Q537.50,488.50 535.00,488.50 L472.00,488.50 Q469.50,488.50 468.48,486.22 L462.52,472.78 Q461.50,470.50 462.52,468.22 L468.48,454.78 Q469.50,452.50 472.00,452.50Z" />
<path class="cv" d="M578.50,452.50 L610.00,452.50 Q612.50,452.50 613.52,454.78 L619.48,468.22 Q620.50,470.50 619.48,472.78 L613.52,486.22 Q612.50,488.50 610.00,488.50 L547.00,488.50 Q544.50,488.50 544.50,486.00 L544.50,455.00 Q544.50,452.50 547.00,452.50Z" />
<circle cx="439.3" cy="468" r="1.3" fill="#fff" stroke="none"/>
<circle cx="642.2" cy="468" r="1.3" fill="#fff" stroke="none"/>
<path class="h1" d="M540.75,576.75 L614.80,576.75 Q616.00,576.75 616.53,577.83 L624.97,594.92 Q625.50,596.00 626.61,595.55 L644.39,588.45 Q645.50,588.00 645.58,589.20 L646.42,601.30 Q646.50,602.50 646.42,603.70 L645.58,616.30 Q645.50,617.50 644.39,617.05 L626.61,609.95 Q625.50,609.50 624.90,610.54 L616.60,624.96 Q616.00,626.00 614.80,626.00 L573.70,626.00 Q572.50,626.00 572.18,627.16 L560.82,667.59 Q560.50,668.75 559.30,668.75 L525.70,668.75 Q524.50,668.75 524.11,667.61 L510.39,627.14 Q510.00,626.00 508.80,626.00 L466.70,626.00 Q465.50,626.00 464.90,624.96 L456.60,610.54 Q456.00,609.50 454.89,609.95 L437.11,617.05 Q436.00,617.50 435.92,616.30 L435.08,603.70 Q435.00,602.50 435.08,601.30 L435.92,589.20 Q436.00,588.00 437.11,588.45 L454.89,595.55 Q456.00,596.00 456.53,594.92 L464.97,577.83 Q465.50,576.75 466.70,576.75Z" />
<path class="cv" d="M489.75,583.50 L507.50,583.50 Q510.00,583.50 510.00,586.00 L510.00,616.50 Q510.00,619.00 507.50,619.00 L472.00,619.00 Q469.50,619.00 468.46,616.73 L462.54,603.77 Q461.50,601.50 462.52,599.22 L468.48,585.78 Q469.50,583.50 472.00,583.50Z" />
<rect class="cv" x="516.5" y="583.5" width="48.5" height="35.5" rx="2.5"/>
<path class="cv" d="M592.25,583.50 L610.00,583.50 Q612.50,583.50 613.52,585.78 L619.48,599.22 Q620.50,601.50 619.46,603.77 L613.54,616.73 Q612.50,619.00 610.00,619.00 L574.50,619.00 Q572.00,619.00 572.00,616.50 L572.00,586.00 Q572.00,583.50 574.50,583.50Z" />
<circle cx="439.3" cy="602.5" r="1.3" fill="#fff" stroke="none"/>
<circle cx="642.2" cy="602.5" r="1.3" fill="#fff" stroke="none"/>
<path class="cv" d="M541.25,626.20 L564.00,626.20 Q565.50,626.20 565.09,627.64 L555.91,660.06 Q555.50,661.50 554.00,661.50 L531.00,661.50 Q529.50,661.50 529.00,660.09 L517.50,627.61 Q517.00,626.20 518.50,626.20Z" />
<path class="h1" d="M414.85,770.50 L414.85,770.50 Q413.50,770.50 413.27,769.17 L408.17,739.17 Q407.80,737.00 408.40,734.88 L408.90,733.12 Q409.50,731.00 411.70,730.88 L425.30,730.12 Q427.50,730.00 428.60,728.09 L463.90,666.91 Q465.00,665.00 466.64,663.54 L472.36,658.46 Q474.00,657.00 476.10,656.33 L482.90,654.17 Q485.00,653.50 487.20,653.40 L505.30,652.60 Q507.50,652.50 509.50,653.41 L511.00,654.09 Q513.00,655.00 514.17,656.87 L516.83,661.13 Q518.00,663.00 519.59,664.52 L528.91,673.48 Q530.50,675.00 529.07,676.67 L528.93,676.83 Q527.50,678.50 525.73,677.20 L521.77,674.30 Q520.00,673.00 518.60,671.30 L511.90,663.20 Q510.50,661.50 509.65,663.53 L498.35,690.47 Q497.50,692.50 499.70,692.50 L621.00,692.31 Q626.00,692.30 630.21,695.00 L632.00,696.15 Q638.00,700.00 642.23,705.74 L660.52,730.58 Q662.30,733.00 662.39,736.00 L662.45,738.23 Q662.50,740.00 661.25,741.25 L661.25,741.25 Q660.00,742.50 658.23,742.50 L648.20,742.50 Q646.00,742.50 646.59,744.62 L648.91,752.88 Q649.50,755.00 648.54,756.98 L642.76,768.82 Q641.80,770.80 639.60,770.80 L618.70,770.80 Q616.50,770.80 615.42,768.88 L608.68,756.92 Q607.60,755.00 608.18,752.88 L610.42,744.62 Q611.00,742.50 608.80,742.50 L472.70,742.50 Q470.50,742.50 471.03,744.64 L473.07,752.86 Q473.60,755.00 472.55,756.93 L466.05,768.87 Q465.00,770.80 462.80,770.80 L441.90,770.80 Q439.70,770.80 438.77,768.81 L433.23,756.99 Q432.30,755.00 432.85,752.87 L434.95,744.63 Q435.50,742.50 433.30,742.50 L418.40,742.50 Q416.20,742.50 416.20,744.70 L416.20,769.15 Q416.20,770.50 414.85,770.50Z" />
<path class="cv" d="M458.75,731.20 L471.80,731.20 Q474.30,731.20 475.07,728.82 L494.59,668.10 Q495.20,666.20 493.47,665.20 L491.59,664.11 Q489.00,662.60 486.04,663.08 L483.44,663.50 Q478.50,664.30 474.87,667.74 L472.43,670.06 Q468.80,673.50 466.34,677.85 L456.73,694.82 Q455.50,697.00 454.38,699.24 L444.34,719.32 Q443.00,722.00 443.07,725.00 L443.13,728.20 Q443.20,731.20 446.20,731.20Z" />
<path class="cv" d="M536.00,702.50 L573.00,702.50 Q576.00,702.50 576.00,705.50 L576.00,729.30 Q576.00,732.30 573.00,732.30 L490.15,732.30 Q487.50,732.30 487.50,729.65 L487.50,729.65 Q487.50,727.00 488.37,724.50 L495.02,705.33 Q496.00,702.50 499.00,702.50Z" />
<path class="cv" d="M605.62,702.50 L622.00,702.50 Q625.00,702.50 627.05,704.69 L641.70,720.31 Q643.75,722.50 643.75,725.50 L643.75,729.30 Q643.75,732.30 640.75,732.30 L589.25,732.30 Q586.25,732.30 586.25,729.30 L586.25,705.50 Q586.25,702.50 589.25,702.50Z" />
<rect class="cv" x="443.3" y="743.7" width="19.3" height="19.8" rx="4"/>
<rect class="cv" x="619.5" y="743.7" width="19.3" height="19.8" rx="4"/>
<path class="h1" d="M540.00,742.50 L608.80,742.50 Q610.00,742.50 609.64,743.65 L607.86,749.35 Q607.50,750.50 606.30,750.50 L601.20,750.50 Q600.00,750.50 600.00,751.70 L600.00,783.80 Q600.00,785.00 601.20,785.00 L614.80,785.00 Q616.00,785.00 616.60,786.04 L624.90,800.46 Q625.50,801.50 626.60,801.03 L644.40,793.47 Q645.50,793.00 645.58,794.20 L646.42,806.30 Q646.50,807.50 646.42,808.70 L645.58,820.80 Q645.50,822.00 644.38,821.58 L626.62,814.92 Q625.50,814.50 625.00,815.59 L616.50,833.91 Q616.00,835.00 614.80,835.00 L466.70,835.00 Q465.50,835.00 465.00,833.91 L456.50,815.59 Q456.00,814.50 454.88,814.92 L437.12,821.58 Q436.00,822.00 435.92,820.80 L435.08,808.70 Q435.00,807.50 435.08,806.30 L435.92,794.20 Q436.00,793.00 437.10,793.47 L454.90,801.03 Q456.00,801.50 456.60,800.46 L464.90,786.04 Q465.50,785.00 466.70,785.00 L481.30,785.00 Q482.50,785.00 482.50,783.80 L482.50,751.70 Q482.50,750.50 481.30,750.50 L473.70,750.50 Q472.50,750.50 472.14,749.35 L470.36,743.65 Q470.00,742.50 471.20,742.50Z" />
<rect class="cv" x="487.5" y="750.5" width="50.0" height="33.5" rx="2.5"/>
<rect class="cv" x="544.5" y="750.5" width="50.0" height="33.5" rx="2.5"/>
<path class="cv" d="M503.50,792.00 L535.00,792.00 Q537.50,792.00 537.50,794.50 L537.50,825.50 Q537.50,828.00 535.00,828.00 L472.00,828.00 Q469.50,828.00 468.48,825.72 L462.52,812.28 Q461.50,810.00 462.52,807.72 L468.48,794.28 Q469.50,792.00 472.00,792.00Z" />
<path class="cv" d="M578.50,792.00 L610.00,792.00 Q612.50,792.00 613.52,794.28 L619.48,807.72 Q620.50,810.00 619.48,812.28 L613.52,825.72 Q612.50,828.00 610.00,828.00 L547.00,828.00 Q544.50,828.00 544.50,825.50 L544.50,794.50 Q544.50,792.00 547.00,792.00Z" />
<circle cx="439.3" cy="807.5" r="1.3" fill="#fff" stroke="none"/>
<circle cx="642.2" cy="807.5" r="1.3" fill="#fff" stroke="none"/>
<path class="h1" d="M540.75,916.25 L614.80,916.25 Q616.00,916.25 616.53,917.33 L624.97,934.42 Q625.50,935.50 626.61,935.05 L644.39,927.95 Q645.50,927.50 645.58,928.70 L646.42,940.80 Q646.50,942.00 646.42,943.20 L645.58,955.80 Q645.50,957.00 644.39,956.55 L626.61,949.45 Q625.50,949.00 624.90,950.04 L616.60,964.46 Q616.00,965.50 614.80,965.50 L466.70,965.50 Q465.50,965.50 464.90,964.46 L456.60,950.04 Q456.00,949.00 454.89,949.45 L437.11,956.55 Q436.00,957.00 435.92,955.80 L435.08,943.20 Q435.00,942.00 435.08,940.80 L435.92,928.70 Q436.00,927.50 437.11,927.95 L454.89,935.05 Q456.00,935.50 456.53,934.42 L464.97,917.33 Q465.50,916.25 466.70,916.25Z" />
<path class="cv" d="M489.75,923.00 L507.50,923.00 Q510.00,923.00 510.00,925.50 L510.00,956.00 Q510.00,958.50 507.50,958.50 L472.00,958.50 Q469.50,958.50 468.46,956.23 L462.54,943.27 Q461.50,941.00 462.52,938.72 L468.48,925.28 Q469.50,923.00 472.00,923.00Z" />
<rect class="cv" x="516.5" y="923.0" width="48.5" height="35.5" rx="2.5"/>
<path class="cv" d="M592.25,923.00 L610.00,923.00 Q612.50,923.00 613.52,925.28 L619.48,938.72 Q620.50,941.00 619.46,943.27 L613.54,956.23 Q612.50,958.50 610.00,958.50 L574.50,958.50 Q572.00,958.50 572.00,956.00 L572.00,925.50 Q572.00,923.00 574.50,923.00Z" />
<circle cx="439.3" cy="942.0" r="1.3" fill="#fff" stroke="none"/>
<circle cx="642.2" cy="942.0" r="1.3" fill="#fff" stroke="none"/>
<path class="st" d="M353.55,266.25 L353.74,265.91 Q354.50,264.50 356.00,263.93 L357.50,263.37 Q359.00,262.80 360.60,262.85 L363.40,262.95 Q365.00,263.00 366.26,263.98 L368.24,265.52 Q369.50,266.50 369.97,268.03 L370.73,270.47 Q371.20,272.00 370.93,273.58 L370.27,277.42 Q370.00,279.00 368.89,280.15 L362.91,286.35 Q361.80,287.50 363.27,288.13 L365.03,288.87 Q366.50,289.50 368.02,288.99 L369.48,288.51 Q371.00,288.00 371.12,289.60 L371.18,290.40 Q371.30,292.00 370.15,293.11 L363.65,299.39 Q362.50,300.50 363.80,301.43 L364.70,302.07 Q366.00,303.00 367.53,302.52 L369.27,301.98 Q370.80,301.50 370.96,303.09 L371.04,303.91 Q371.20,305.50 370.13,306.69 L364.57,312.81 Q363.50,314.00 361.90,314.09 L354.60,314.51 Q353.00,314.60 352.94,313.00 L352.66,305.10 Q352.60,303.50 351.02,303.24 L348.08,302.76 Q346.50,302.50 345.11,303.29 L344.39,303.71 Q343.00,304.50 341.74,303.52 L339.76,301.98 Q338.50,301.00 338.60,299.40 L338.70,297.60 Q338.80,296.00 338.68,294.40 L338.12,286.60 Q338.00,285.00 338.56,283.50 L338.94,282.50 Q339.50,281.00 341.09,280.82 L342.41,280.68 Q344.00,280.50 344.85,281.86 L345.65,283.14 Q346.50,284.50 348.09,284.37 L351.01,284.13 Q352.60,284.00 352.60,282.40 L352.60,269.60 Q352.60,268.00 353.36,266.59Z" />
<circle cx="361.9" cy="273.1" r="5.2" class="stw"/>
<ellipse cx="345.8" cy="293.3" rx="4.6" ry="5.4" class="stw"/>
<circle cx="357.5" cy="286.8" r="1.4" fill="#777"/>
<path class="stw" d="M544.40,246.55 L544.40,246.55 Q545.00,245.60 546.11,245.45 L546.51,245.40 Q548.00,245.20 549.34,245.87 L557.66,250.03 Q559.00,250.70 560.37,251.30 L572.53,256.60 Q573.90,257.20 574.95,258.27 L578.35,261.73 Q579.40,262.80 579.47,264.30 L579.53,265.30 Q579.60,266.80 578.10,266.86 L570.80,267.14 Q569.30,267.20 568.60,268.53 L568.00,269.67 Q567.30,271.00 567.30,272.50 L567.30,276.50 Q567.30,278.00 568.19,279.21 L568.61,279.79 Q569.50,281.00 570.92,280.53 L571.08,280.47 Q572.50,280.00 573.13,281.36 L573.97,283.14 Q574.60,284.50 574.13,285.92 L572.47,290.98 Q572.00,292.40 571.34,293.75 L566.26,304.05 Q565.60,305.40 564.68,306.59 L557.22,316.21 Q556.30,317.40 555.18,318.40 L548.62,324.30 Q547.50,325.30 546.05,324.90 L546.05,324.90 Q544.60,324.50 544.27,323.04 L544.13,322.46 Q543.80,321.00 543.80,319.50 L543.80,248.62 Q543.80,247.50 544.40,246.55Z" />
<path class="st" d="M557.40,250.15 L557.87,250.31 Q559.00,250.70 560.10,251.18 L572.80,256.72 Q573.90,257.20 574.74,258.06 L578.56,261.94 Q579.40,262.80 579.46,264.00 L579.54,265.60 Q579.60,266.80 578.40,266.85 L570.50,267.15 Q569.30,267.20 568.74,268.26 L567.86,269.94 Q567.30,271.00 567.30,272.20 L567.30,276.80 Q567.30,278.00 568.01,278.97 L568.79,280.03 Q569.50,281.00 570.64,280.62 L571.36,280.38 Q572.50,280.00 573.01,281.09 L574.09,283.41 Q574.60,284.50 574.22,285.64 L572.38,291.26 Q572.00,292.40 571.47,293.48 L566.13,304.32 Q565.60,305.40 564.86,306.35 L557.04,316.45 Q556.30,317.40 555.40,318.20 L549.40,323.50 Q548.50,324.30 548.35,323.11 L548.15,321.39 Q548.00,320.20 548.29,319.04 L554.11,295.46 Q554.40,294.30 554.42,293.10 L554.88,268.60 Q554.90,267.40 554.96,266.20 L555.74,250.80 Q555.80,249.60 556.93,249.99Z" />
<path class="stw" d="M544.70,249.80 L552.55,252.30 Q553.50,252.60 553.16,253.54 L546.30,272.50" />
<path class="stw" d="M553.60,267.40 L553.98,289.40 Q554.00,290.60 553.18,291.48 L549.72,295.22 Q548.90,296.10 548.44,294.99 L544.76,286.11 Q544.30,285.00 544.86,283.94 L553.60,267.40" />
<path class="stw" d="M544.30,312.80 L546.41,315.69 Q547.00,316.50 547.22,317.48 L548.00,321.00" />
<path class="st" d="M786.65,729.90 L786.71,729.83 Q787.50,728.80 788.75,729.15 L788.75,729.15 Q790.00,729.50 790.32,730.76 L797.96,761.14 Q798.30,762.50 799.16,763.61 L800.14,764.89 Q801.00,766.00 802.40,766.00 L803.60,766.00 Q805.00,766.00 805.84,764.88 L807.16,763.12 Q808.00,762.00 808.03,760.60 L808.57,737.40 Q808.60,736.00 809.26,734.76 L810.34,732.74 Q811.00,731.50 812.28,730.94 L815.02,729.76 Q816.30,729.20 816.35,730.60 L816.65,740.10 Q816.70,741.50 818.09,741.62 L821.11,741.88 Q822.50,742.00 822.88,740.65 L823.12,739.85 Q823.50,738.50 824.89,738.30 L825.61,738.20 Q827.00,738.00 827.95,739.03 L832.05,743.47 Q833.00,744.50 833.31,745.86 L834.19,749.64 Q834.50,751.00 834.14,752.35 L832.86,757.15 Q832.50,758.50 831.60,759.58 L828.40,763.42 Q827.50,764.50 826.11,764.67 L824.89,764.83 Q823.50,765.00 823.09,763.66 L822.91,763.04 Q822.50,761.70 821.10,761.70 L818.10,761.70 Q816.70,761.70 816.70,763.10 L816.70,771.60 Q816.70,773.00 815.30,773.00 L795.40,773.00 Q794.00,773.00 792.95,772.07 L790.55,769.93 Q789.50,769.00 789.36,767.61 L785.93,732.38 Q785.80,731.00 786.65,729.90Z" />
<rect class="stw" x="814.8" y="746.6" width="16" height="9.4" rx="4"/>
<path class="al" d="M816.70,773.30 L816.70,763.30 Q816.70,761.70 818.30,761.70 L820.90,761.70 Q822.50,761.70 822.93,763.24 L823.07,763.76 Q823.50,765.30 825.09,765.47 L828.41,765.83 Q830.00,766.00 830.96,764.72 L835.74,758.28 Q836.70,757.00 836.70,755.40 L836.70,739.60 Q836.70,738.00 835.11,737.85 L824.59,736.85 Q823.00,736.70 822.85,738.29 L822.65,740.41 Q822.50,742.00 820.91,741.86 L818.29,741.64 Q816.70,741.50 816.70,739.90 L816.70,731.60 Q816.70,730.00 818.30,730.09 L834.20,731.00" />
<path class="al" d="M352.20,303.00 L347.90,303.00 Q346.30,303.00 346.30,304.60 L346.30,310.40 Q346.30,312.00 344.70,312.00 L337.60,312.00 Q336.00,312.00 336.00,310.40 L336.00,276.60 Q336.00,275.00 337.60,275.00 L344.70,275.00 Q346.30,275.00 346.30,276.60 L346.30,281.90 Q346.30,283.50 347.90,283.50 L352.20,283.50" />
<line class="al" x1="352.2" y1="267.5" x2="352.2" y2="283.5"/>
<line class="al" x1="352.2" y1="303" x2="352.2" y2="326.5"/>
<path class="al" d="M587.00,274.90 L576.30,274.73 Q574.50,274.70 574.13,276.46 L573.85,277.82 Q573.50,279.50 572.10,280.50 L572.07,280.52 Q570.70,281.50 569.35,280.50 L569.35,280.50 Q568.00,279.50 568.00,277.82 L568.00,272.30 Q568.00,270.50 569.39,269.35 L570.61,268.35 Q572.00,267.20 573.80,267.20 L590.00,267.20" />
<text class="tx" font-size="25.7" textLength="117.2" lengthAdjust="spacing" transform="translate(291.7 99.6) rotate(90)">ACVG31N</text>
<text class="tx" font-size="25.7" textLength="110" lengthAdjust="spacing" transform="translate(260.7 107.2) rotate(90)">ACVL020</text>
<text class="tx" font-size="25.7" textLength="113.2" lengthAdjust="spacing" transform="translate(230.3 104.6) rotate(90)">ACSP057</text>
<path class="t" d="M301.50,216.50 L301.50,293.50 L335.00,293.50" />
<polygon class="ar" points="335.50,293.50 321.50,290.80 321.50,296.20"/>
<path class="t" d="M270.50,216.50 L270.50,344.50 L338.00,344.50" />
<polygon class="ar" points="338.75,344.50 324.75,341.80 324.75,347.20"/>
<path class="t" d="M239.50,217.50 L239.50,442.50 L355.00,442.50" />
<polygon class="ar" points="355.80,442.50 341.80,439.90 341.80,445.10"/>
<text class="tx" x="317.2" y="503.3" font-size="17.3" text-anchor="end">ACIP022A</text>
<line class="t" x1="317.5" y1="496.5" x2="380" y2="496.5"/>
<polygon class="ar" points="392.50,496.50 377.50,494.00 377.50,499.00"/>
<text class="tx" font-size="25.7" textLength="119" lengthAdjust="spacing" transform="translate(854.7 75.6) rotate(90)">ACVG33N</text>
<path class="t" d="M865.50,194.50 L865.50,250.50 L561.00,250.50" />
<polygon class="ar" points="560.40,250.50 574.40,247.80 574.40,253.20"/>
<text class="tx" font-size="25.7" textLength="106.3" lengthAdjust="spacing" transform="translate(854.2 280.4) rotate(90)">SP067PL</text>
<text class="tx" font-size="25.7" textLength="75.3" lengthAdjust="spacing" transform="translate(853.2 520.4) rotate(90)">SP726</text>
<text class="tx" font-size="25.7" textLength="75.5" lengthAdjust="spacing" transform="translate(804 852) rotate(90)">SP011</text>
<text class="tx" font-size="25.7" textLength="109.3" lengthAdjust="spacing" transform="translate(881.2 827.2) rotate(90)">ACVL031</text>
<path class="t" d="M893.50,827.00 L893.50,750.50 L838.00,750.50" />
<polygon class="ar" points="837.50,750.50 849.50,748.30 849.50,752.70"/>
<text class="tx" font-size="25.7" textLength="109.3" lengthAdjust="spacing" transform="translate(295.2 759.2) rotate(90)">ACVL020</text>
<text class="tx" font-size="25.7" textLength="111.7" lengthAdjust="spacing" transform="translate(266.2 759.2) rotate(90)">ACSP030</text>
<path class="t" d="M303.50,757.50 L303.50,740.50 L343.00,740.50" />
<polygon class="ar" points="343.75,740.50 330.75,737.90 330.75,743.10"/>
<path class="t" d="M277.50,757.50 L277.50,701.50 L446.00,701.50" />
<polygon class="ar" points="447.50,701.50 434.50,698.90 434.50,704.10"/>
<text class="tx" x="749" y="521.8" font-size="21.3" text-anchor="middle">ACIP711</text>
<text class="tx" font-size="17.2" transform="translate(394 850) rotate(90)">ACIP012A</text>
<text class="tx" font-size="17.2" transform="translate(370.5 850) rotate(90)">ACIP013A</text>
<text class="tx" font-size="20.8" transform="translate(727.5 825) rotate(90)">ACIP012B</text>
<text class="tx" font-size="20.8" transform="translate(701.5 825) rotate(90)">ACIP013B</text>
</svg>
</body></html>
